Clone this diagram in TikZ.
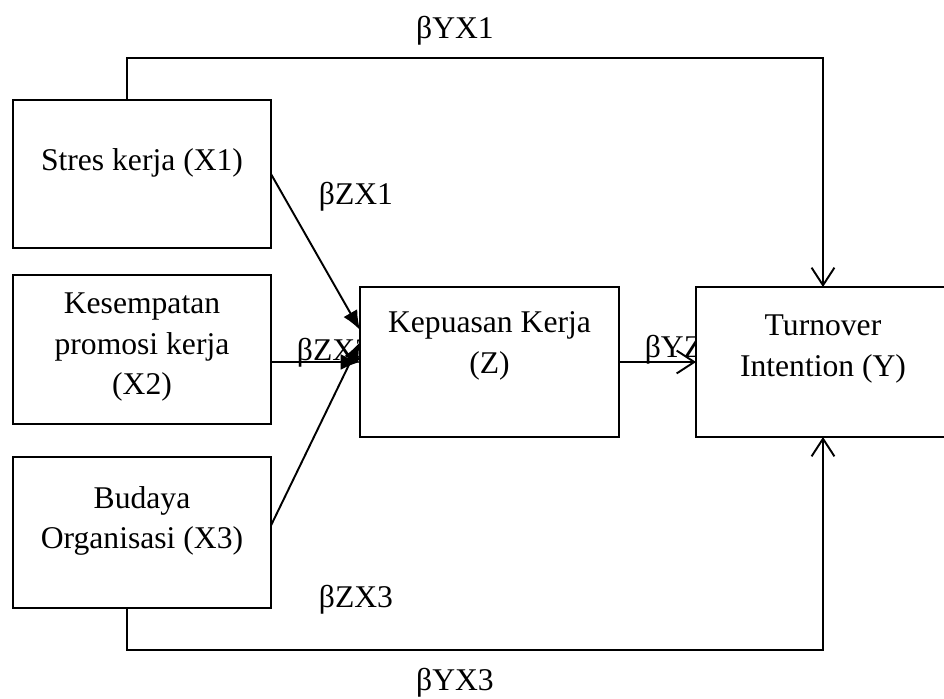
\documentclass[tikz,border=0pt]{standalone}
\usepackage{fontspec}
\setmainfont{Liberation Serif}
\usetikzlibrary{arrows.meta,positioning}

\tikzset{
    box/.style={draw, line width=1.2pt, fill=white, rectangle, inner sep=0pt, outer sep=0pt},
    txt/.style={align=center, inner sep=0pt, font=\fontsize{18}{23}\selectfont},
    coef/.style={inner sep=0pt, font=\fontsize{18}{23}\selectfont},
    direct/.style={line width=1.1pt, -{Latex[length=11pt,width=9pt]}},
    open/.style={line width=1.1pt, -{Straight Barb[length=10pt,width=13pt,line width=1.1pt]}}
}

\begin{document}
\begin{tikzpicture}[x=0.02cm, y=-0.02cm]
    \useasboundingbox (0,0) rectangle (944,698);

    % Draw path coefficients
    \node[coef] (byx1) at (455,31) {βYX1};
    \node[coef] (bzx1) at (356,197) {βZX1};
    \node[coef] (bzx2) at (334,353) {βZX2};
    \node[coef] (byz) at (674,350) {βYZ};
    \node[coef] (bzx3) at (356,600) {βZX3};
    \node[coef] (byx3) at (455,683) {βYX3};

    % Draw the boxes
    \node[box, minimum width=5.16cm, minimum height=2.96cm] (x1) at (142,174) {};
    \node[box, minimum width=5.16cm, minimum height=2.98cm] (x2) at (142,349.5) {};
    \node[box, minimum width=5.16cm, minimum height=3.02cm] (x3) at (142,532.5) {};
    \node[box, minimum width=5.18cm, minimum height=3.00cm] (z) at (489.5,362) {};
    \node[box, minimum width=5.08cm, minimum height=3.00cm] (y) at (823,362) {};

    % Texts inside the boxes
    \node[txt] (x1t) at (142,163) {Stres kerja (X1)};
    \node[txt] (x2t) at (142,347) {Kesempatan\\promosi kerja\\(X2)};
    \node[txt] (x3t) at (142,521) {Budaya\\Organisasi (X3)};
    \node[txt] (zt) at (489.5,346) {Kepuasan Kerja\\(Z)};
    \node[txt] (yt) at (823,349) {Turnover\\Intention (Y)};

    % Draw the paths to Z
    \draw[direct] (x1.east) -- ([yshift=0.64cm]z.west);
    \draw[direct] (x2.east |- z.west) -- (z.west);
    \draw[direct] ([yshift=0.14cm]x3.east) -- ([yshift=0.4cm]z.west);

    % Draw the paths to Y
    \coordinate (top) at (823,58);
    \coordinate (bot) at (823,650);
    \draw[open] (z.east) -- (y.west);
    \draw[open] ([xshift=-0.3cm]x1.north) |- (top) -- (y.north);
    \draw[open] ([xshift=-0.3cm]x3.south) |- (bot) -- (y.south);
\end{tikzpicture}
\end{document}
